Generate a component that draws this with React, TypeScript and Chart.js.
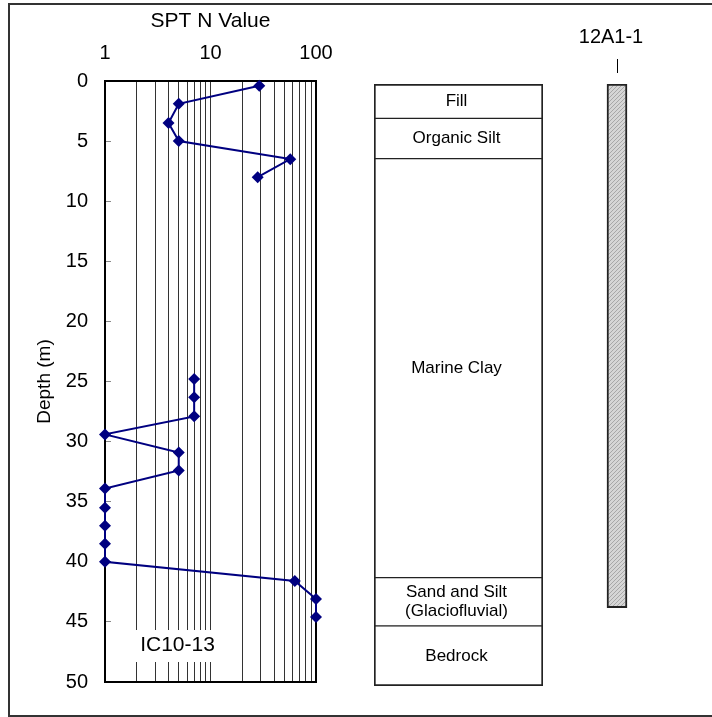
import React, { useEffect, useRef } from 'react';
import { Chart, registerables } from 'chart.js';

Chart.register(...registerables);

// ---------- data ----------
const SPT_UPPER_DEPTH = [0.4, 1.9, 3.5, 5.0, 6.5, 8.0];
const SPT_UPPER_N = [29, 5, 4, 5, 57, 28];
const SPT_LOWER_DEPTH = [24.8, 26.3, 27.9, 29.4, 30.9, 32.4, 33.9, 35.5, 37.0, 38.5, 40.0, 41.6, 43.1, 44.6];
const SPT_LOWER_N = [7, 7, 7, 1, 5, 5, 1, 1, 1, 1, 1, 63, 100, 100];

const X_GRID_VALUES = [1, 2, 3, 4, 5, 6, 7, 8, 9, 10, 20, 30, 40, 50, 60, 70, 80, 90, 100];
const X_TICK_LABELS = [1, 10, 100];
const DEPTH_MIN = 0;
const DEPTH_MAX = 50;
const DEPTH_STEP = 5;

const BORING_ID = 'IC10-13';

const STRATA_NAMES: (string | string[])[] = [
  'Fill',
  'Organic Silt',
  'Marine Clay',
  ['Sand and Silt', '(Glaciofluvial)'],
  'Bedrock',
];
const STRATA_TOP = [0, 2.85, 6.2, 41.0, 45.0];
const STRATA_BOTTOM = [2.85, 6.2, 41.0, 45.0, 50.0];

const WELL_LABEL = '12A1-1';
const WELL_INTERVAL = [0, 43.5];

// ---------- styles ----------
const FONT = "'Liberation Sans', Arial, Helvetica, sans-serif";
const NAVY = '#000080';

Chart.defaults.font.family = FONT;
Chart.defaults.color = '#000';

const boringLabelPlugin = {
  id: 'boringLabel',
  beforeDatasetsDraw(chart: any) {
    const { ctx, chartArea } = chart;
    ctx.save();
    ctx.fillStyle = '#fff';
    ctx.fillRect(chartArea.left + 29, chartArea.bottom - 52, 82, 32);
    ctx.fillStyle = '#000';
    ctx.font = `21px ${FONT}`;
    ctx.textAlign = 'center';
    ctx.textBaseline = 'middle';
    ctx.fillText(BORING_ID, chartArea.left + 72.5, chartArea.bottom - 37);
    ctx.restore();
  },
};

const strataLabelPlugin = {
  id: 'strataLabels',
  afterDatasetsDraw(chart: any) {
    const { ctx } = chart;
    ctx.save();
    ctx.fillStyle = '#000';
    ctx.font = `17px ${FONT}`;
    ctx.textAlign = 'center';
    ctx.textBaseline = 'middle';
    STRATA_NAMES.forEach((name, i) => {
      const el = chart.getDatasetMeta(i).data[0];
      if (!el) return;
      const lines = Array.isArray(name) ? name : [name];
      const cy = (el.y + el.base) / 2;
      const lh = 19;
      lines.forEach((t, k) => {
        ctx.fillText(t, el.x - 2, cy + (k - (lines.length - 1) / 2) * lh);
      });
    });
    ctx.restore();
  },
};

function toPoints(depths: number[], ns: number[]) {
  return depths.map((d, i) => ({ x: ns[i], y: d }));
}

export default function App() {
  const sptRef = useRef<HTMLCanvasElement>(null);
  const strataRef = useRef<HTMLCanvasElement>(null);
  const wellRef = useRef<HTMLCanvasElement>(null);

  useEffect(() => {
    const lineStyle = {
      showLine: true,
      borderColor: NAVY,
      borderWidth: 2,
      borderDash: [1000, 0],
      pointStyle: 'rectRot',
      pointRadius: 6,
      pointBackgroundColor: NAVY,
      pointBorderColor: NAVY,
      pointBorderWidth: 0,
      clip: false,
    };

    const spt = new Chart(sptRef.current!, {
      type: 'scatter',
      data: {
        datasets: [
          { ...lineStyle, data: toPoints(SPT_UPPER_DEPTH, SPT_UPPER_N) },
          { ...lineStyle, data: toPoints(SPT_LOWER_DEPTH, SPT_LOWER_N) },
        ] as any,
      },
      options: {
        responsive: false,
        animation: false,
        devicePixelRatio: 1,
        layout: { padding: { left: 0, top: 0, right: 44, bottom: 29 } },
        plugins: { legend: { display: false }, tooltip: { enabled: false } },
        scales: {
          x: {
            type: 'logarithmic',
            position: 'top',
            min: 1,
            max: 100,
            afterBuildTicks: (s: any) => {
              s.ticks = X_GRID_VALUES.map((v) => ({ value: v }));
            },
            afterFit: (s: any) => {
              s.height = 81;
            },
            ticks: {
              autoSkip: false,
              maxRotation: 0,
              minRotation: 0,
              padding: 16,
              color: '#000',
              font: { size: 20 },
              callback: (v: any) => (X_TICK_LABELS.includes(Number(v)) ? String(v) : ''),
            },
            grid: {
              drawTicks: false,
              color: (c: any) => (c.tick && c.tick.value === 100 ? '#000' : '#333'),
              lineWidth: (c: any) => (c.tick && c.tick.value === 100 ? 2 : 1),
            },
            border: { display: true, color: '#000', width: 2 },
            title: {
              display: true,
              text: 'SPT N Value',
              color: '#000',
              font: { size: 21 },
              padding: { top: 9, bottom: 0 },
            },
          },
          xBottom: {
            type: 'logarithmic',
            position: 'bottom',
            min: 1,
            max: 100,
            afterFit: (s: any) => {
              s.height = 0;
            },
            ticks: { display: false },
            grid: { drawOnChartArea: false, drawTicks: false },
            border: { display: true, color: '#000', width: 2 },
          },
          y: {
            type: 'linear',
            position: 'left',
            reverse: true,
            min: DEPTH_MIN,
            max: DEPTH_MAX,
            afterFit: (s: any) => {
              s.width = 105;
            },
            ticks: { stepSize: DEPTH_STEP, padding: 23, color: '#000', font: { size: 20 } },
            grid: { drawOnChartArea: false, drawTicks: true, tickLength: -6, color: '#888', lineWidth: 1 },
            border: { display: true, color: '#000', width: 2 },
            title: {
              display: true,
              text: 'Depth (m)',
              color: '#000',
              font: { size: 19 },
              padding: { top: 33, bottom: 0 },
            },
          },
        },
      } as any,
      plugins: [boringLabelPlugin],
    });

    const last = STRATA_NAMES.length - 1;
    const strata = new Chart(strataRef.current!, {
      type: 'bar',
      data: {
        labels: ['strata'],
        datasets: STRATA_NAMES.map((name, i) => ({
          label: Array.isArray(name) ? name.join(' ') : name,
          data: [[STRATA_TOP[i], STRATA_BOTTOM[i]]],
          backgroundColor: '#fff',
          borderColor: '#222',
          borderWidth: { left: 2, right: 2, top: i === 0 ? 2 : 1, bottom: i === last ? 2 : 1 },
          borderSkipped: false,
          grouped: false,
          barPercentage: 1,
          categoryPercentage: 1,
        })) as any,
      },
      options: {
        responsive: false,
        animation: false,
        devicePixelRatio: 1,
        layout: { padding: { left: 14, right: 17, top: 84, bottom: 31 } },
        plugins: { legend: { display: false }, tooltip: { enabled: false } },
        scales: {
          x: { display: false },
          y: { display: false, reverse: true, min: DEPTH_MIN, max: DEPTH_MAX },
        },
      } as any,
      plugins: [strataLabelPlugin],
    });

    const pc = document.createElement('canvas');
    pc.width = 4;
    pc.height = 4;
    const p = pc.getContext('2d')!;
    p.fillStyle = '#d6d6d6';
    p.fillRect(0, 0, 4, 4);
    p.fillStyle = '#a8a8a8';
    for (let i = 0; i < 4; i++) p.fillRect(i, 3 - i, 1, 1);
    const pattern = wellRef.current!.getContext('2d')!.createPattern(pc, 'repeat');

    const well = new Chart(wellRef.current!, {
      type: 'bar',
      data: {
        labels: [WELL_LABEL],
        datasets: [
          {
            data: [WELL_INTERVAL],
            backgroundColor: pattern,
            borderColor: '#222',
            borderWidth: 2,
            borderSkipped: false,
            barThickness: 20,
          },
        ] as any,
      },
      options: {
        responsive: false,
        animation: false,
        devicePixelRatio: 1,
        layout: { padding: { left: 0, right: 0, top: 0, bottom: 31 } },
        plugins: { legend: { display: false }, tooltip: { enabled: false } },
        scales: {
          x: {
            position: 'top',
            weight: 1,
            afterFit: (s: any) => {
              s.height = 73;
            },
            ticks: {
              color: '#000',
              font: { size: 20 },
              padding: 9.5,
              labelOffset: -6,
              maxRotation: 0,
              autoSkip: false,
            },
            grid: { drawOnChartArea: false, drawTicks: true, tickLength: 14, color: '#000', lineWidth: 1, offset: false },
            border: { display: false },
          },
          x2: {
            type: 'category',
            position: 'top',
            weight: 0,
            afterFit: (s: any) => {
              s.height = 11;
            },
            ticks: { display: false },
            grid: { display: false },
            border: { display: false },
          },
          y: { display: false, reverse: true, min: DEPTH_MIN, max: DEPTH_MAX },
        },
      } as any,
    });

    return () => {
      spt.destroy();
      strata.destroy();
      well.destroy();
    };
  }, []);

  return (
    <div
      style={{
        position: 'fixed',
        left: 0,
        top: 0,
        width: 712,
        height: 717,
        overflow: 'hidden',
        background: '#fff',
      }}
    >
      <div
        style={{
          position: 'absolute',
          left: 8,
          top: 3,
          width: 712,
          height: 714,
          boxSizing: 'border-box',
          border: '2px solid #333',
        }}
      />
      <canvas ref={sptRef} width={360} height={717} style={{ position: 'absolute', left: 0, top: 0 }} />
      <canvas ref={strataRef} width={200} height={717} style={{ position: 'absolute', left: 360, top: 0 }} />
      <canvas ref={wellRef} width={140} height={717} style={{ position: 'absolute', left: 547, top: 0 }} />
    </div>
  );
}
